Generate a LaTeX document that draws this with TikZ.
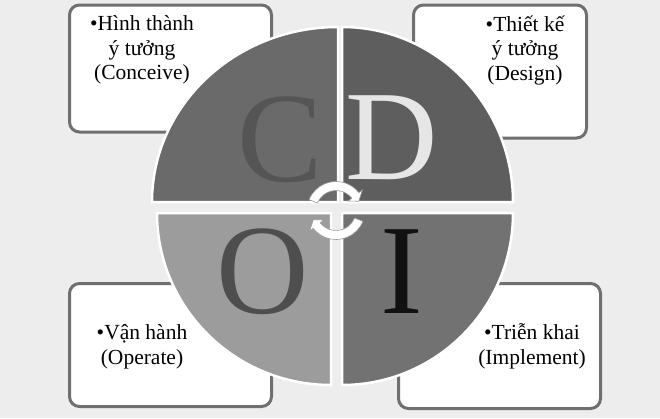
\documentclass[tikz,border=0pt]{standalone}
\usepackage{fontspec}
\setmainfont{Liberation Serif}
\definecolor{bgc}{HTML}{EDEDED}
\definecolor{boxc}{HTML}{6F6F6F}
\definecolor{qC}{HTML}{6A6A6A}
\definecolor{qD}{HTML}{5E5E5E}
\definecolor{qO}{HTML}{9C9C9C}
\definecolor{qI}{HTML}{727272}
\definecolor{lC}{HTML}{555555}
\definecolor{lD}{HTML}{E6E6E6}
\definecolor{lO}{HTML}{4E4E4E}
\definecolor{lI}{HTML}{111111}
\begin{document}
\begin{tikzpicture}[x=1pt,y=-1pt,
  box/.style={draw=boxc, line width=3pt, fill=white, rounded corners=10pt, inner sep=0pt},
  lbl/.style={align=center, font=\fontsize{21.5}{24.5}\selectfont, inner sep=0pt, anchor=north},
  big/.style={font=\fontsize{128}{128}\selectfont, inner sep=0pt, anchor=base},
  quad/.style={draw=white, line width=2.5pt},
  cyc/.style={fill=white, draw=black!40, line width=0.6pt}]
\fill[bgc] (0,0) rectangle (660,418);
\useasboundingbox (0,0) rectangle (660,418);
% boxes
\node[box, minimum width=202pt, minimum height=127pt] (boxC) at (170.5,68.5) {};
\node[box, minimum width=173pt, minimum height=133pt] (boxD) at (500,71.5) {};
\node[box, minimum width=202pt, minimum height=123pt] (boxO) at (170.5,345) {};
\node[box, minimum width=202pt, minimum height=125pt] (boxI) at (499.5,346) {};
% texts
\node[lbl] (tC) at (142,15.5) {•Hình thành\\ý tưởng\\(Conceive)};
\node[lbl] (tD) at (525,15.5) {•Thiết kế\\ý tưởng\\(Design)};
\node[lbl] (tO) at (142,324.5) {•Vận hành\\(Operate)};
\node[lbl] (tI) at (532,323.5) {•Triễn khai\\(Implement)};
% quadrants
\path[fill=qC, quad] (338,202) -- ++(-186,0) arc[start angle=180, end angle=270, x radius=186, y radius=175] -- cycle;
\path[fill=qD, quad] (342,202) -- ++(0,-175) arc[start angle=270, end angle=360, x radius=171, y radius=175] -- cycle;
\path[fill=qO, quad] (331,213) -- ++(-174,0) arc[start angle=180, end angle=90, x radius=174, y radius=172] -- cycle;
\path[fill=qI, quad] (342,213) -- ++(171,0) arc[start angle=0, end angle=90, x radius=171, y radius=172] -- cycle;
% letters
\node[big, text=lC] (C) at (280,181) {C};
\node[big, text=lD] (D) at (392,179) {D};
\node[big, text=lO] (O) at (263,313) {O};
\node[big, text=lI] (I) at (402,313) {I};
% cycle arrows
\begin{scope}[shift={(336,210.5)}, x=1pt, y=1pt]
\path[cyc] (158:29) arc[start angle=158, end angle=38, radius=29] -- (38:33.5) -- (22:24.5) -- (38:15.5) -- (38:20) arc[start angle=38, end angle=158, radius=20] -- cycle;
\path[cyc] (-22:29) arc[start angle=-22, end angle=-142, radius=29] -- (-142:33.5) -- (-158:24.5) -- (-142:15.5) -- (-142:20) arc[start angle=-142, end angle=-22, radius=20] -- cycle;
\end{scope}
\end{tikzpicture}
\end{document}
